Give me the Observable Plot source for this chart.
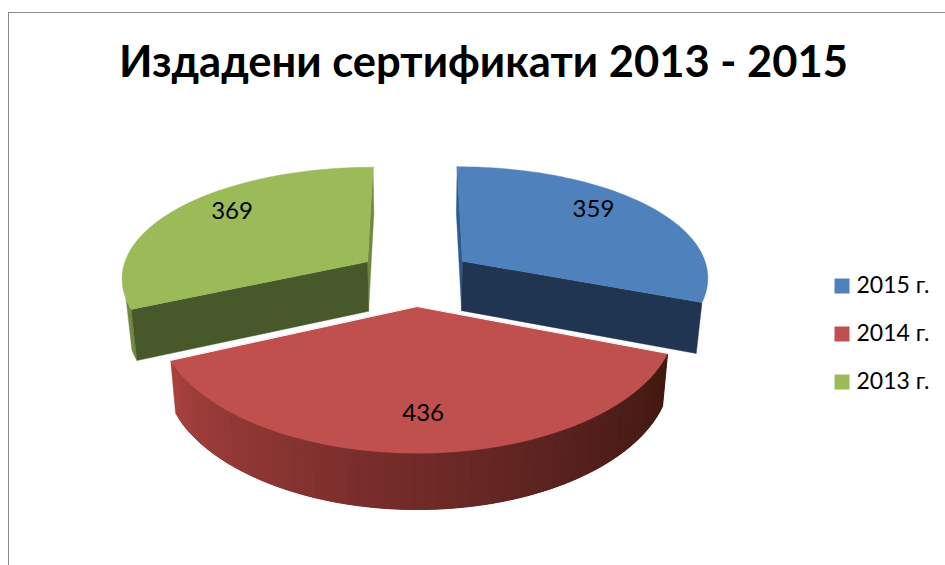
<!DOCTYPE html>
<html><head><meta charset="utf-8">
<script src="https://cdn.jsdelivr.net/npm/d3@7"></script>
<script src="https://cdn.jsdelivr.net/npm/@observablehq/plot@0.6"></script>
<style>
html,body{margin:0;padding:0;background:#fff;overflow:hidden}
#chart{position:relative;width:945px;height:565px;overflow:hidden}
#frame{position:absolute;left:8px;top:12px;width:1000px;height:600px;border:1.4px solid #8a8a8a;box-sizing:border-box}
#title{position:absolute;left:0;top:34px;width:967px;text-align:center;font:700 43.5px Lato,"Open Sans",sans-serif;color:#000;white-space:nowrap}
svg{position:absolute;left:0;top:0}
</style></head><body>
<div id="chart"><div id="frame"></div><div id="title"></div></div>
<script>
const titleText = "Издадени сертификати 2013 - 2015";
const years = ["2015 г.", "2014 г.", "2013 г."];
const values = [359, 436, 369];
const topColors = ["#4f81bd", "#c0504d", "#9bbb59"];
const faceColors = ["#1f3552", "#5a2320", "#47592a"];
const wallColors = ["#2c5a92", "#5a2320", "#6f8a40"];
const redSideRamp = ["#a8413e", "#8f3835", "#7a2e2b", "#652623", "#4f1e1b", "#43190f"];
const labelRadius = [0.70, 0.76, 0.71];

// pie model, exploded with perspective
const cx = 415, cy = 276.5, R = 247, H = 113.7, D = 50, px = 0.13, py = 0.155, ex = 0.235, ey = 0.25;
const project = (mx, my, z = 0) => {
  const wx = 1 + px * my, wy = 1 + py * my;
  return {x: cx + R * mx / wx * (1 - 0.02 * z), y: cy - H * my / wy + D * z / Math.pow(wy, 0.55)};
};
const arcs = d3.pie().sort(null)(values);
const slices = arcs.map((a, i) => {
  const mid = (a.startAngle + a.endAngle) / 2;
  const ax = ex * Math.sin(mid), ay = ey * Math.cos(mid);
  const pt = (t, r = 1, z = 0) => project(ax + r * Math.sin(t), ay + r * Math.cos(t), z);
  return {i, mid, ax, ay, pt, a0: a.startAngle, a1: a.endAngle};
});

const shapes = [];
let uid = 0;
const poly = (color, pts) => { const id = uid++; [...pts, pts[0]].forEach(p => shapes.push({id, color, x: p.x, y: p.y})); };
const arcPts = (s, a, b, z) => d3.range(0, 61).map(k => s.pt(a + (b - a) * k / 60, 1, z));
const ramp = d3.interpolateRgbBasis(redSideRamp);

function drawSlice(s) {
  const c = s.i;
  if (c === 1) {
    const n = 60;
    // outer wall painted from the left end to the right end, each band overlapping the next
    d3.range(n).forEach(k => {
      const t0 = s.a1 + (s.a0 - s.a1) * k / n, t1 = s.a1 + (s.a0 - s.a1) * Math.min(n, k + 3) / n;
      const ts = d3.range(0, 5).map(j => t0 + (t1 - t0) * j / 4);
      poly(ramp(k / (n - 1)), [...ts.map(t => s.pt(t)), ...ts.slice().reverse().map(t => s.pt(t, 1, 1))]);
    });
  } else {
    const apexT = s.pt(s.mid, 0), apexB = s.pt(s.mid, 0, 1);
    const wallAngle = c === 0 ? s.a0 : s.a1, faceAngle = c === 0 ? s.a1 : s.a0;
    poly(wallColors[c], [s.pt(wallAngle), apexT, apexB, s.pt(wallAngle, 1, 1)]);
    if (c === 2) poly(wallColors[c], [...arcPts(s, s.a0, s.a0 + 0.09, 0), ...arcPts(s, s.a0 + 0.09, s.a0, 1)]);
    poly(faceColors[c], [apexT, s.pt(faceAngle), s.pt(faceAngle, 1, 1), apexB]);
  }
  poly(topColors[c], [s.pt(s.mid, 0), ...arcPts(s, s.a0, s.a1, 0)]);
}
[0, 2, 1].forEach(i => drawSlice(slices[i]));

const red = slices[1];
const redEdge = [red.pt(red.a1), red.pt(red.mid, 0), red.pt(red.a0)];
const labels = slices.map((s, i) => {
  const p = s.pt(s.mid, labelRadius[i]);
  return {text: String(values[i]), x: p.x, y: p.y - (i === 1 ? 0 : 11)};
});
const legendRows = years.map((y, i) => ({year: y, row: i, color: topColors[i]}));
const legendY = d3.scaleLinear().domain([0, 1]).range([285.5, 333.5]);

document.getElementById("title").textContent = titleText;
const font = "Lato, 'Open Sans', sans-serif";
const chart = Plot.plot({
  width: 945, height: 565, margin: 0,
  x: {domain: [0, 945], axis: null},
  y: {domain: [565, 0], axis: null},
  style: {background: "transparent"},
  marks: [
    Plot.line(shapes, {x: "x", y: "y", z: "id", fill: "color", stroke: "color", strokeWidth: 0.4, curve: "linear"}),
    Plot.line(redEdge, {x: "x", y: "y", stroke: "white", strokeWidth: 1}),
    Plot.text(labels, {x: "x", y: "y", text: "text", fontSize: 24, fontFamily: font, fill: "black"}),
    Plot.dot(legendRows, {x: () => 841.5, y: d => legendY(d.row), symbol: "square", r: 8.46, fill: "color", stroke: "none"}),
    Plot.text(legendRows, {x: () => 856, y: d => legendY(d.row), text: "year", textAnchor: "start", fontSize: 23, fontFamily: font, fill: "black"})
  ]
});
document.getElementById("chart").appendChild(chart);
</script>
</body></html>
